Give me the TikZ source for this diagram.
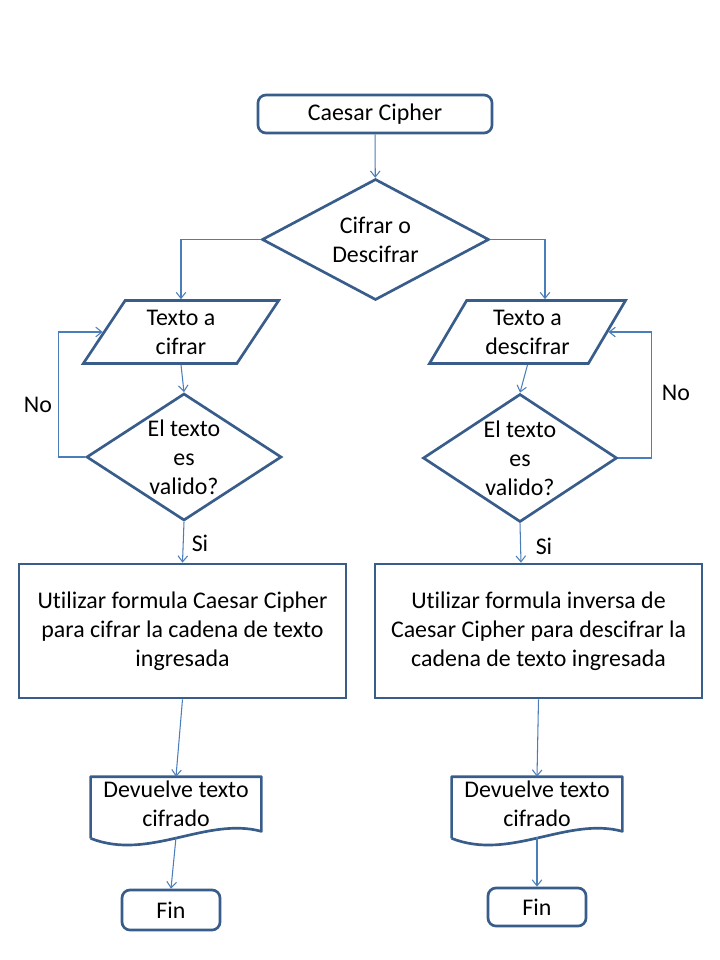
\documentclass[tikz,border=0pt]{standalone}
\usepackage{fontspec}
\setmainfont{Carlito}[Ligatures=CommonOff]
\usetikzlibrary{shapes.geometric,arrows.meta,calc}
\definecolor{shapeblue}{HTML}{385D8A}
\definecolor{lineblue}{HTML}{4A7EBB}
\tikzset{
  box/.style={draw=shapeblue, line width=1.9pt, fill=white, align=center, inner sep=0pt,
    font=\fontsize{17}{20.7}\selectfont},
  terminal/.style={box, rounded corners=0.2cm},
  decision/.style={box, diamond, aspect=1.5},
  inout/.style={box, trapezium, trapezium left angle=60, trapezium right angle=120,
    trapezium stretches=true, minimum width=4.925cm, minimum height=1.575cm},
  process/.style={box, minimum width=8.175cm, minimum height=3.35cm},
  docu/.style={box, draw=none, fill=none, minimum width=4.2cm, minimum height=1.3cm},
  link/.style={draw=lineblue, line width=0.75pt, -{Straight Barb[length=1.5mm,width=2.4mm]}},
  tag/.style={font=\fontsize{17}{20.7}\selectfont}
}
\begin{document}
\begin{tikzpicture}[x=0.025cm, y=-0.025cm]
	\useasboundingbox (0,0) rectangle (720,960);
	% top
	\path (375,114) node(start)[terminal, minimum width=5.85cm, minimum height=0.95cm]{Caesar Cipher}
		(375.5,239.5) node(choice)[decision, minimum width=5.675cm, minimum height=3.025cm]{Cifrar o\\Descifrar};
	% left branch
	\path (181,332) node(txtin)[inout]{Texto a\\cifrar}
		(184,457) node(valin)[decision, minimum width=4.875cm, minimum height=3.175cm]{El texto\\es\\valido?}
		(182.5,631) node(procin)[process]{Utilizar formula Caesar Cipher\\para cifrar la cadena de texto\\ingresada}
		(176,804) node(docin)[docu]{Devuelve texto\\cifrado}
		(171,910) node(finin)[terminal, minimum width=2.45cm, minimum height=1cm]{Fin};
	% right branch
	\path (527.5,332) node(txtout)[inout]{Texto a\\descifrar}
		(520,458) node(valout)[decision, minimum width=4.85cm, minimum height=3.2cm]{El texto\\es\\valido?}
		(538.5,631) node(procout)[process]{Utilizar formula inversa de\\Caesar Cipher para descifrar la\\cadena de texto ingresada}
		(537,804) node(docout)[docu]{Devuelve texto\\cifrado}
		(537,907) node(finout)[terminal, minimum width=2.45cm, minimum height=0.95cm]{Fin};
	% document outlines
	\foreach \d in {docin,docout}
		\draw[shapeblue, line width=1.9pt, line join=round]
			($(\d.south west)+(0,7)$) -- (\d.north west) -- (\d.north east) -- (\d.south east)
			.. controls +(-55,-15) and +(58,23) .. ($(\d.south west)+(0,7)$);
	% connectors
	\draw[link] (start) -- (choice);
	\draw[link] (choice.west) -| (txtin.north);
	\draw[link] (choice.east) -| ($(txtout.north)+(17.5,0)$);
	\draw[link] (txtin.south) -- (valin.north);
	\draw[link] (txtout.south) -- (valout.north);
	\draw[link] (valin.west) -- ++(-27,0) |- (txtin);
	\draw[link] (valout.east) -- ++(33,0) |- (txtout);
	\draw[link] (valin.south) -- (procin.north);
	\draw[link] (valout.south) -- ($(procout.north)+(-17.5,0)$);
	\draw[link] (procin.south) -- (docin.north);
	\draw[link] (procout.south) -- (docout.north);
	\draw[link] ($(docin.south)+(0,6)$) -- (finin.north);
	\draw[link] ($(docout.south)+(0,6)$) -- (finout.north);
	% labels
	\path (38,405) node(noin)[tag]{No}
		(676,393) node(noout)[tag]{No}
		(200,543) node(siin)[tag]{Si}
		(544,546) node(siout)[tag]{Si};
\end{tikzpicture}
\end{document}
